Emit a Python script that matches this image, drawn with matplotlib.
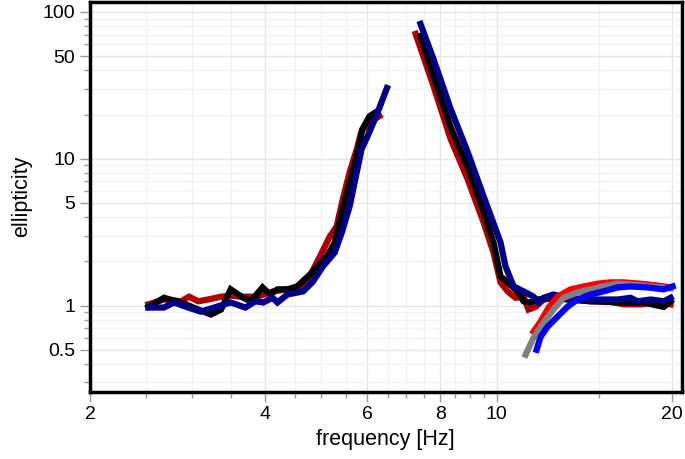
import numpy as np
import matplotlib.pyplot as plt
from matplotlib.ticker import FixedLocator, FixedFormatter, LogLocator, NullFormatter

plt.rcParams['font.family'] = ['Liberation Sans', 'DejaVu Sans']

# ---------------- data ----------------
# low-frequency branch
red_lo_f = [2.52, 2.68, 2.87, 2.96, 3.07, 3.19, 3.36, 3.49, 3.63, 3.88, 4.13, 4.37, 4.59,
            4.78, 4.97, 5.17, 5.31, 5.44, 5.59, 5.75, 5.86, 6.05, 6.29]
red_lo_e = [1.02, 1.10, 1.07, 1.15, 1.07, 1.10, 1.15, 1.17, 1.15, 1.15, 1.25, 1.29, 1.29,
            1.60, 2.16, 2.96, 3.46, 5.29, 8.09, 11.6, 15.4, 17.7, 19.5]
blk_lo_f = [2.52, 2.68, 2.87, 3.07, 3.23, 3.36, 3.49, 3.67, 3.78, 3.96, 4.08, 4.20, 4.37,
            4.54, 4.78, 5.11, 5.27, 5.42, 5.59, 5.75, 5.88, 6.05, 6.21]
blk_lo_e = [0.98, 1.13, 1.05, 0.94, 0.87, 0.94, 1.29, 1.13, 1.07, 1.33, 1.19, 1.29, 1.29,
            1.35, 1.63, 2.16, 2.69, 4.31, 6.91, 10.4, 15.9, 19.5, 20.8]
nav_lo_f = [2.52, 2.68, 2.79, 2.95, 3.10, 3.27, 3.49, 3.70, 3.85, 3.97, 4.12, 4.20, 4.37,
            4.65, 4.83, 5.03, 5.27, 5.42, 5.59, 5.75, 5.86, 6.00, 6.21, 6.48]
nav_lo_e = [0.97, 0.97, 1.05, 0.97, 0.91, 0.97, 1.05, 0.97, 1.07, 1.05, 1.13, 1.05, 1.19,
            1.25, 1.45, 1.85, 2.30, 3.15, 4.74, 8.09, 11.6, 14.2, 19.5, 30.3]

# high-frequency branch
red_hi_f = [7.26, 7.79, 8.34, 8.92, 9.50, 9.88, 10.16, 10.45, 10.78, 11.13, 11.35, 11.67,
            12.05, 12.73, 13.57, 14.51, 15.52, 16.54, 17.69, 18.92, 19.92]
red_hi_e = [70.8, 31.3, 13.6, 7.25, 3.69, 2.30, 1.44, 1.25, 1.13, 1.15, 0.94, 0.98,
            1.10, 1.13, 1.10, 1.07, 1.07, 1.02, 1.02, 1.05, 1.02]
blk_hi_f = [7.40, 7.79, 8.34, 8.92, 9.50, 9.88, 10.16, 10.45, 10.87, 11.13, 11.44, 11.76,
            12.39, 13.25, 14.51, 16.54, 17.90, 19.38, 19.92]
blk_hi_e = [68.6, 36.6, 16.4, 8.76, 4.38, 2.69, 1.58, 1.44, 1.25, 1.07, 1.05, 1.10,
            1.13, 1.10, 1.07, 1.05, 1.05, 0.98, 1.07]
nav_hi_f = [7.40, 7.79, 8.34, 8.92, 9.50, 10.16, 10.36, 10.70, 11.13, 11.58, 11.81, 12.05,
            12.53, 13.25, 14.12, 15.10, 16.15, 17.00, 17.48, 18.41, 19.38, 19.92]
nav_hi_e = [82.8, 47.8, 21.8, 11.1, 5.55, 2.69, 1.85, 1.35, 1.25, 1.15, 1.05, 1.13,
            1.19, 1.13, 1.10, 1.10, 1.10, 1.13, 1.07, 1.10, 1.07, 1.13]

# rising curves above 11 Hz
bred_f = [11.58, 11.90, 12.29, 12.73, 13.41, 14.12, 14.92, 15.71, 16.54, 17.69, 18.92, 19.92]
bred_e = [0.665, 0.778, 0.97, 1.15, 1.29, 1.35, 1.41, 1.44, 1.44, 1.41, 1.37, 1.33]
gray_f = [11.22, 11.58, 12.05, 12.53, 13.04, 13.78, 14.51, 15.28, 16.15, 17.00, 18.41, 19.92]
gray_e = [0.463, 0.605, 0.766, 0.939, 1.13, 1.23, 1.29, 1.35, 1.41, 1.39, 1.35, 1.31]
bblu_f = [11.72, 11.90, 12.24, 12.73, 13.25, 13.78, 14.51, 15.28, 16.15, 17.00, 18.19, 19.38, 20.08]
bblu_e = [0.50, 0.61, 0.719, 0.841, 0.984, 1.10, 1.19, 1.25, 1.33, 1.35, 1.33, 1.29, 1.35]

x_major = [2, 4, 6, 8, 10, 20]
x_minor = [2.5, 3, 3.5, 4.5, 5, 5.5, 6.5, 7, 7.5, 8.5, 9, 9.5, 15]
y_major = [0.5, 1, 5, 10, 50, 100]

# ---------------- plot ----------------
fig = plt.figure(figsize=(6.85, 4.59), dpi=100)
ax = fig.add_axes([0.1314, 0.147, 0.8635, 0.849])
ax.set_xscale('log')
ax.set_yscale('log')

lw = 4.5
for f, e, c in [(red_lo_f, red_lo_e, '#b00000'), (blk_lo_f, blk_lo_e, 'black'),
                (nav_lo_f, nav_lo_e, '#00008c'), (red_hi_f, red_hi_e, '#b00000'),
                (blk_hi_f, blk_hi_e, 'black'), (nav_hi_f, nav_hi_e, '#00008c'),
                (bred_f, bred_e, '#ff0000'), (gray_f, gray_e, '#808080'),
                (bblu_f, bblu_e, '#0000ff')]:
    ax.plot(f, e, color=c, lw=lw, solid_joinstyle='miter')

ax.set_xlim(2, 20.8)
ax.set_ylim(0.26, 117)

ax.xaxis.set_major_locator(FixedLocator(x_major))
ax.xaxis.set_major_formatter(FixedFormatter([str(v) for v in x_major]))
ax.xaxis.set_minor_locator(FixedLocator(x_minor))
ax.xaxis.set_minor_formatter(NullFormatter())
ax.yaxis.set_major_locator(FixedLocator(y_major))
ax.yaxis.set_major_formatter(FixedFormatter(['0.5', '1', '5', '10', '50', '100']))
ax.yaxis.set_minor_locator(LogLocator(base=10, subs=np.arange(2, 10)))
ax.yaxis.set_minor_formatter(NullFormatter())

ax.grid(which='major', color='#e6e6e6', lw=1)
ax.grid(which='minor', color='#f3f3f3', lw=1)
ax.set_axisbelow(True)

ax.tick_params(which='major', direction='out', length=7.5, width=1, color='#999999',
               labelsize=14, pad=3)
ax.tick_params(which='minor', direction='out', length=4.5, width=1, color='#999999')
for s in ax.spines.values():
    s.set_linewidth(2.5)
    s.set_color('black')

ax.set_xlabel('frequency [Hz]', fontsize=15.5, labelpad=4)
ax.set_ylabel('ellipticity', fontsize=15.5, labelpad=8)

fig.savefig('out.png', dpi=100)
